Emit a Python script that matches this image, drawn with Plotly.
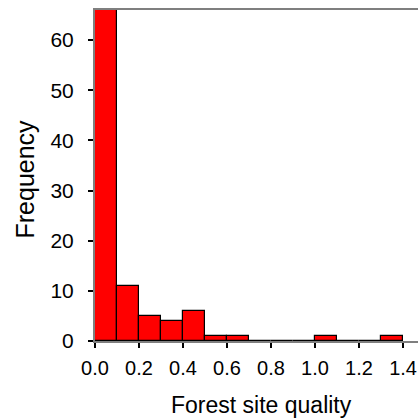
import plotly.graph_objects as go

# Histogram of forest site quality, bins of width 0.1
bin_starts = [0.0, 0.1, 0.2, 0.3, 0.4, 0.5, 0.6, 0.7, 0.8, 0.9, 1.0, 1.1, 1.2, 1.3]
counts = [66, 11, 5, 4, 6, 1, 1, 0, 0, 0, 1, 0, 0, 1]
bin_width = 0.1
x_ticks = [0.0, 0.2, 0.4, 0.6, 0.8, 1.0, 1.2, 1.4]
y_ticks = [0, 10, 20, 30, 40, 50, 60]

FONT = "Liberation Sans, Arial, sans-serif"

fig = go.Figure()
fig.add_trace(go.Bar(
    x=[b + bin_width / 2 for b in bin_starts],
    y=counts,
    width=bin_width,
    marker=dict(color="#ff0000", line=dict(color="black", width=1.2)),
    hoverinfo="skip",
))

fig.update_layout(
    width=418, height=420,
    margin=dict(l=95, r=0, t=10, b=79),
    plot_bgcolor="white", paper_bgcolor="white",
    showlegend=False,
    bargap=0,
    font=dict(family=FONT, color="black"),
    xaxis=dict(
        range=[0, 1.468],
        tickvals=x_ticks, tickformat=".1f",
        ticks="outside", ticklen=5, tickcolor="black", tickwidth=1.5,
        tickfont=dict(size=20, family=FONT),
        ticklabelstandoff=3,
        showline=True, linecolor="#7f7f7f", linewidth=2, mirror=True,
        showgrid=False, zeroline=False,
    ),
    yaxis=dict(
        range=[0, 66],
        tickvals=y_ticks,
        ticks="outside", ticklen=5, tickcolor="black", tickwidth=1.5,
        tickfont=dict(size=21, family=FONT),
        ticklabelstandoff=10,
        showline=True, linecolor="#7f7f7f", linewidth=2,
        showgrid=False, zeroline=False,
    ),
    annotations=[
        dict(text="Forest site quality", xref="paper", yref="paper",
             x=0.514, y=0, yshift=-64, xanchor="center", yanchor="middle",
             showarrow=False, font=dict(size=23, family=FONT)),
        dict(text="Frequency", xref="paper", yref="paper",
             x=0, xshift=-71, y=0.5, yshift=-4, xanchor="center", yanchor="middle",
             textangle=-90, showarrow=False, font=dict(size=25, family=FONT)),
    ],
)

fig.write_html("out.html")
